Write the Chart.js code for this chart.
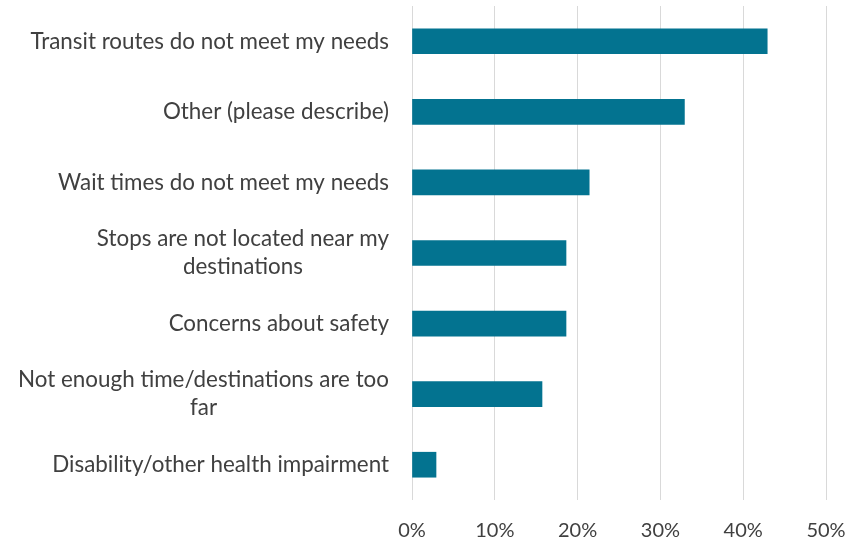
<!DOCTYPE html>
<html>
<head>
<meta charset="utf-8">
<script src="https://cdn.jsdelivr.net/npm/chart.js@4"></script>
<style>
  html, body { margin: 0; padding: 0; background: #fff; }
  #wrap { width: 860px; height: 542px; }
</style>
</head>
<body>
<div id="wrap"><canvas id="chart" width="860" height="542"></canvas></div>
<script>
// Reasons for not using transit, share of responses
var reasons = [
  "Transit routes do not meet my needs",
  "Other (please describe)",
  "Wait times do not meet my needs",
  ["Stops are not located near my", "destinations"],
  "Concerns about safety",
  ["Not enough time/destinations are too", "far"],
  "Disability/other health impairment"
];
var shares = [42.9, 32.9, 21.4, 18.6, 18.6, 15.7, 2.9];
var tickValues = [0, 10, 20, 30, 40, 50];

var labelFont = "22.4px Lato";
var labelColor = "#404040";
var labelGap = 23;     // space between label block and plot area
var lineStep = 28;     // line spacing for wrapped labels

// category labels: block right-aligned to the axis, lines centred inside the block
var categoryLabels = {
  id: "categoryLabels",
  afterDraw: function (chart) {
    var yScale = chart.scales.y;
    var c = chart.ctx;
    var right = chart.chartArea.left - labelGap;
    c.save();
    c.font = labelFont;
    c.fillStyle = labelColor;
    c.textAlign = "center";
    c.textBaseline = "middle";
    reasons.forEach(function (label, i) {
      var lines = Array.isArray(label) ? label : [label];
      var maxW = 0;
      lines.forEach(function (l) { maxW = Math.max(maxW, c.measureText(l).width); });
      var cx = right - maxW / 2;
      var cy = yScale.getPixelForTick(i);
      var y0 = cy - (lines.length - 1) * lineStep / 2;
      lines.forEach(function (l, k) { c.fillText(l, cx, y0 + k * lineStep); });
    });
    c.restore();
  }
};

var ctx = document.getElementById("chart").getContext("2d");
var chart = new Chart(ctx, {
  type: "bar",
  data: {
    labels: reasons,
    datasets: [{
      data: shares,
      backgroundColor: "#037390",
      borderWidth: 0,
      barThickness: 25
    }]
  },
  options: {
    indexAxis: "y",
    responsive: false,
    animation: false,
    layout: { padding: { top: 6, right: 34, left: 0, bottom: 0 } },
    plugins: {
      legend: { display: false },
      tooltip: { enabled: false }
    },
    scales: {
      x: {
        min: 0,
        max: 50,
        afterBuildTicks: function (axis) {
          axis.ticks = tickValues.map(function (v) { return { value: v }; });
        },
        afterFit: function (axis) {
          axis.height = 42;
          axis.paddingLeft = 0;
          axis.paddingRight = 0;
        },
        grid: { color: "#d9d9d9", lineWidth: 1, drawTicks: false },
        border: { display: false },
        ticks: {
          padding: 19,
          color: labelColor,
          font: { family: "Lato", size: 20 },
          callback: function (v) { return v + "%"; }
        }
      },
      y: {
        afterFit: function (axis) {
          axis.width = 412;
          axis.paddingTop = 0;
          axis.paddingBottom = 0;
        },
        grid: { display: false, drawTicks: false },
        border: { display: false },
        ticks: { display: false }
      }
    }
  },
  plugins: [categoryLabels]
});
</script>
</body>
</html>
